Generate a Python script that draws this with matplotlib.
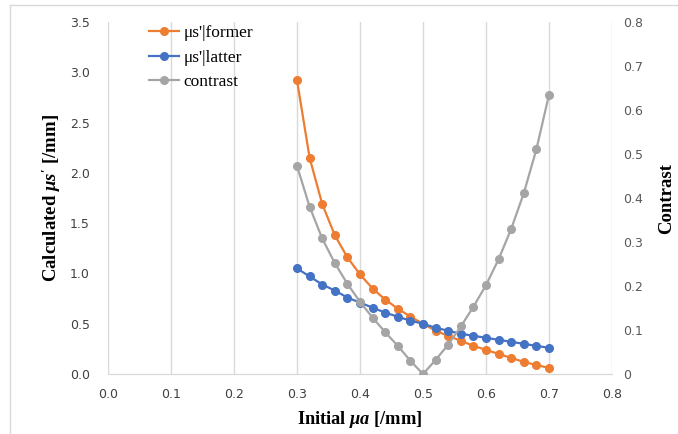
import matplotlib.pyplot as plt
from matplotlib.lines import Line2D

# initial absorption coefficient [/mm]
mua = [0.30, 0.32, 0.34, 0.36, 0.38, 0.40, 0.42, 0.44, 0.46, 0.48, 0.50,
       0.52, 0.54, 0.56, 0.58, 0.60, 0.62, 0.64, 0.66, 0.68, 0.70]
mus_former = [2.92, 2.15, 1.69, 1.38, 1.16, 0.99, 0.85, 0.74, 0.65, 0.57, 0.50,
              0.43, 0.38, 0.33, 0.28, 0.24, 0.20, 0.16, 0.12, 0.09, 0.06]
mus_latter = [1.05, 0.97, 0.89, 0.83, 0.76, 0.71, 0.66, 0.61, 0.57, 0.53, 0.50,
              0.46, 0.43, 0.40, 0.38, 0.36, 0.34, 0.32, 0.30, 0.28, 0.26]
contrast = [0.473, 0.380, 0.308, 0.252, 0.205, 0.164, 0.128, 0.095, 0.064, 0.030, 0.0,
            0.032, 0.067, 0.108, 0.153, 0.202, 0.261, 0.330, 0.411, 0.511, 0.635]

xticks = [0.0, 0.1, 0.2, 0.3, 0.4, 0.5, 0.6, 0.7, 0.8]
yticks = [0.0, 0.5, 1.0, 1.5, 2.0, 2.5, 3.0, 3.5]
y2ticks = [0, 0.1, 0.2, 0.3, 0.4, 0.5, 0.6, 0.7, 0.8]

plt.rcParams['mathtext.fontset'] = 'custom'
plt.rcParams['mathtext.it'] = 'Liberation Serif:italic:bold'
plt.rcParams['mathtext.rm'] = 'Liberation Serif:bold'

ORANGE = '#ED7D31'
BLUE = '#4472C4'
GRAY = '#A5A5A5'

fig = plt.figure(figsize=(6.78, 4.34), dpi=100)
ax = fig.add_axes([0.1593, 0.1382, 0.7434, 0.8111])
ax2 = ax.twinx()

ax.plot(mua, mus_former, color=ORANGE, marker='o', ms=5.5, lw=1.6, label="μs'|former", zorder=3)
ax.plot(mua, mus_latter, color=BLUE, marker='o', ms=5.5, lw=1.6, label="μs'|latter", zorder=3)
ax2.plot(mua, contrast, color=GRAY, marker='o', ms=5.5, lw=1.6, label='contrast', zorder=3)

ax.set_xlim(0, 0.8)
ax.set_ylim(0, 3.5)
ax2.set_ylim(0, 0.8)
ax.set_xticks(xticks)
ax.set_xticklabels([f'{v:.1f}' for v in xticks])
ax.set_yticks(yticks)
ax.set_yticklabels([f'{v:.1f}' for v in yticks])
ax2.set_yticks(y2ticks)
ax2.set_yticklabels([f'{v:g}' for v in y2ticks])

ax.xaxis.grid(True, color='#D9D9D9', lw=1)
ax.set_axisbelow(True)
for a in (ax, ax2):
    for s in ('top', 'left', 'right'):
        a.spines[s].set_visible(False)
    a.spines['bottom'].set_color('#D9D9D9')
    a.tick_params(length=0)
ax.tick_params(axis='x', labelsize=9, colors='#404040', pad=10)
ax.tick_params(axis='y', labelsize=9, colors='#404040', pad=13)
ax2.tick_params(axis='y', labelsize=9, colors='#595959', pad=8)

ax.set_xlabel(r"Initial $\mu a$ [/mm]", fontfamily='Liberation Serif',
              fontweight='bold', fontsize=13.2, labelpad=6)
ax.set_ylabel(r"Calculated $\mu s'$ [/mm]", fontfamily='Liberation Serif',
              fontweight='bold', fontsize=13.5, labelpad=5)
ax2.set_ylabel('Contrast', fontfamily='Liberation Serif', fontweight='bold',
               fontsize=13.5, rotation=90, labelpad=11)

h1, l1 = ax.get_legend_handles_labels()
h2, l2 = ax2.get_legend_handles_labels()
ax2.legend(h1 + h2, l1 + l2, loc='upper left', bbox_to_anchor=(0.05, 1.036),
           frameon=False, prop={'family': 'Liberation Serif', 'size': 12.5},
           handlelength=1.75, handletextpad=0.25, labelspacing=0.49)

# chart area border
fig.add_artist(Line2D([10 / 678, 10 / 678], [0, 1 - 5 / 434], color='#D9D9D9', lw=1))
fig.add_artist(Line2D([10 / 678, 1], [1 - 5 / 434, 1 - 5 / 434], color='#D9D9D9', lw=1))

fig.savefig('out.png', dpi=100)
